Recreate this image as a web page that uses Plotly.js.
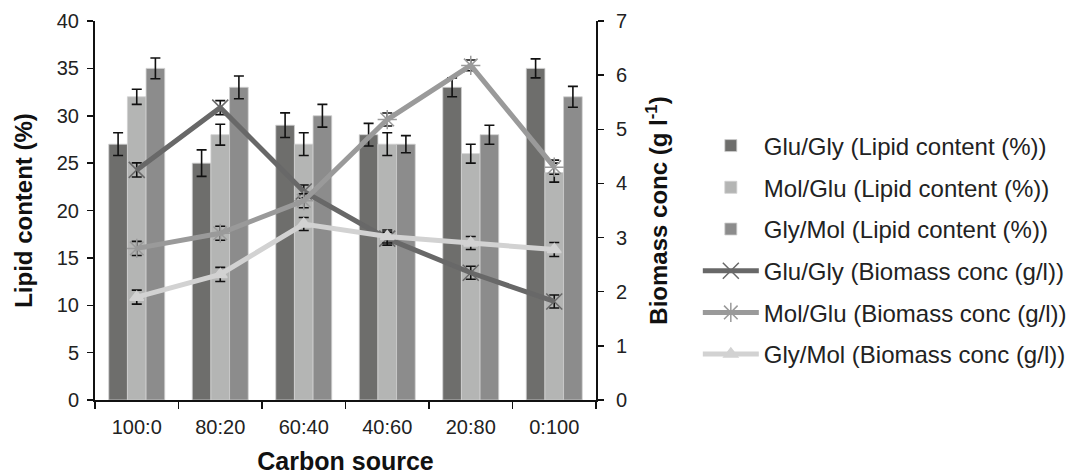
<!DOCTYPE html>
<html>
<head>
<meta charset="utf-8">
<script src="https://cdn.plot.ly/plotly-3.0.1.min.js"></script>
<style>html,body{margin:0;padding:0;background:#fff;}#chart{width:1067px;height:475px;}</style>
</head>
<body>
<div id="chart"></div>
<script>
const categories = ['100:0', '80:20', '60:40', '40:60', '20:80', '0:100'];

// Lipid content (%) - bars, left axis
const lipidGluGly = [27, 25, 29, 28, 33, 35];
const lipidGluGlyErr = [1.2, 1.4, 1.3, 1.2, 1.0, 1.0];
const lipidMolGlu = [32, 28, 27, 27, 26, 24];
const lipidMolGluErr = [0.8, 1.1, 1.2, 1.2, 1.0, 1.0];
const lipidGlyMol = [35, 33, 30, 27, 28, 32];
const lipidGlyMolErr = [1.1, 1.2, 1.2, 0.9, 1.0, 1.1];

// Biomass conc (g/l) - lines, right axis
const bioGluGly = [4.25, 5.4, 3.85, 2.98, 2.35, 1.82];
const bioGluGlyErr = [0.13, 0.13, 0.12, 0.12, 0.12, 0.12];
const bioMolGlu = [2.8, 3.08, 3.68, 5.18, 6.18, 4.3];
const bioMolGluErr = [0.13, 0.13, 0.13, 0.12, 0.1, 0.13];
const bioGlyMol = [1.9, 2.32, 3.25, 3.02, 2.9, 2.78];
const bioGlyMolErr = [0.13, 0.13, 0.12, 0.12, 0.12, 0.13];

const font = 'Liberation Sans, Arial, Helvetica, sans-serif';

function barTrace(name, y, err, color, grp) {
  return {
    type: 'bar', name: name, x: categories, y: y, yaxis: 'y', legendgroup: grp,
    marker: {color: color, line: {color: '#cfcfcf', width: 0.8}},
    error_y: {type: 'data', array: err, visible: true, color: '#111', thickness: 1.6, width: 5}
  };
}
function lineTrace(name, y, err, color, symbol, msize, grp) {
  return {
    type: 'scatter', mode: 'lines+markers', name: name, x: categories, y: y, yaxis: 'y2', legendgroup: grp,
    line: {color: color, width: 5},
    marker: {symbol: symbol, size: msize, color: color, line: {color: color, width: 1.5}},
    error_y: {type: 'data', array: err, visible: true, color: '#111', thickness: 1.6, width: 5}
  };
}

const data = [
  barTrace('Glu/Gly (Lipid content (%))', lipidGluGly, lipidGluGlyErr, '#6e6e6c', 'a'),
  barTrace('Mol/Glu (Lipid content (%))', lipidMolGlu, lipidMolGluErr, '#b4b5b4', 'b'),
  barTrace('Gly/Mol (Lipid content (%))', lipidGlyMol, lipidGlyMolErr, '#8c8c8c', 'c'),
  lineTrace('Glu/Gly (Biomass conc (g/l))', bioGluGly, bioGluGlyErr, '#686868', 'x-thin-open', 16, 'd'),
  lineTrace('Mol/Glu (Biomass conc (g/l))', bioMolGlu, bioMolGluErr, '#9a9a9a', 'asterisk-open', 16, 'e'),
  lineTrace('Gly/Mol (Biomass conc (g/l))', bioGlyMol, bioGlyMolErr, '#d2d2d2', 'triangle-up', 12, 'f')
];

const layout = {
  width: 1067, height: 475,
  margin: {l: 95, r: 471, t: 21, b: 75},
  paper_bgcolor: '#fff', plot_bgcolor: '#fff',
  font: {family: font, size: 20, color: '#222'},
  barmode: 'group', bargap: 0.33, bargroupgap: 0,
  showlegend: true,
  legend: {
    xref: 'container', yref: 'container',
    x: 0.654, xanchor: 'left', y: 0.74, yanchor: 'top',
    maxheight: 1,
    font: {family: font, size: 24, color: '#222'},
    tracegroupgap: 7.5, itemwidth: 56, traceorder: 'grouped',
    bgcolor: 'rgba(0,0,0,0)'
  },
  xaxis: {
    type: 'category', tickson: 'boundaries', ticks: 'outside', ticklen: 7, tickwidth: 1.5, tickcolor: '#111',
    showline: true, linecolor: '#111', linewidth: 2, showgrid: false, zeroline: false,
    ticklabelstandoff: 8,
    tickfont: {family: font, size: 20, color: '#222'},
    title: {text: '<b>Carbon source</b>', font: {family: font, size: 25, color: '#111'}, standoff: 20}
  },
  yaxis: {
    range: [0, 40], dtick: 5, ticks: 'outside', ticklen: 6, tickwidth: 1.5, tickcolor: '#111',
    showline: true, linecolor: '#111', linewidth: 2, showgrid: false, zeroline: false,
    ticklabelstandoff: 4,
    tickfont: {family: font, size: 20, color: '#222'},
    title: {text: '<b>Lipid content (%)</b>', font: {family: font, size: 24, color: '#111'}, standoff: 17}
  },
  yaxis2: {
    range: [0, 7], dtick: 1, overlaying: 'y', side: 'right', ticks: 'outside', ticklen: 6, tickwidth: 1.5, tickcolor: '#111',
    showline: true, linecolor: '#111', linewidth: 2, showgrid: false, zeroline: false,
    ticklabelstandoff: 8,
    tickfont: {family: font, size: 20, color: '#222'},
    title: {text: '<b>Biomass conc (g l<sup>-1</sup>)</b>', font: {family: font, size: 24, color: '#111'}, standoff: 24}
  }
};

Plotly.newPlot('chart', data, layout, {displayModeBar: false, staticPlot: true});
</script>
</body>
</html>
